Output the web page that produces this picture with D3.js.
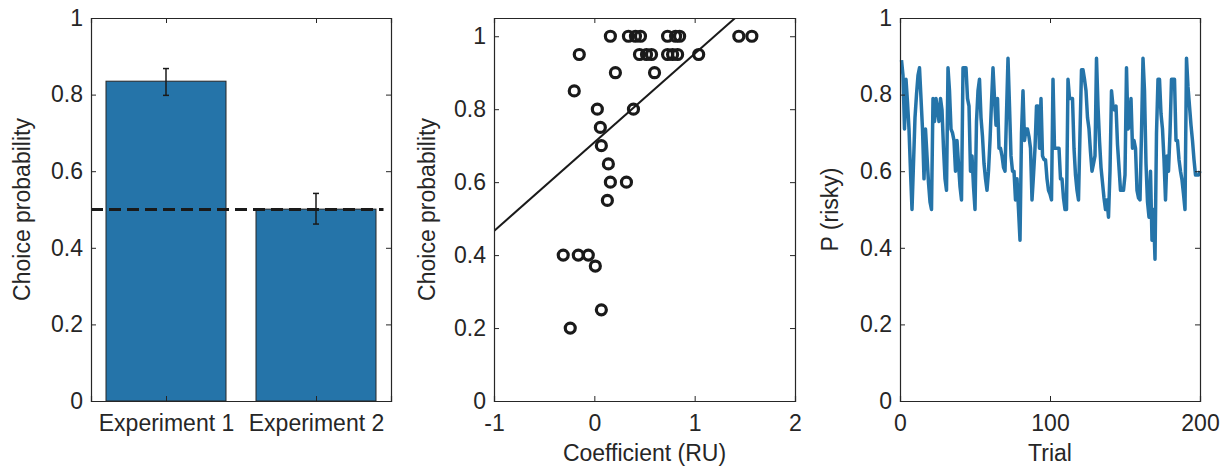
<!DOCTYPE html>
<html>
<head>
<meta charset="utf-8">
<script src="https://cdn.jsdelivr.net/npm/d3@7"></script>
<style>
  body { margin: 0; background: #fff; }
  svg text { font-family: "Liberation Sans", Arial, sans-serif; fill: #262626; }
</style>
</head>
<body>
<svg id="chart" width="1224" height="467"></svg>
<script>
// panel 1 - bars
const experiments = ["Experiment 1", "Experiment 2"];
const barMeans = [0.835, 0.501];
const barLow = [0.798, 0.462];
const barHigh = [0.868, 0.542];
const chanceLevel = 0.5;

// panel 2 - scatter
const coefX = [0.16, 0.34, 0.41, 0.46, 0.73, 0.81, 0.85, 1.44, 1.57,
  -0.15, 0.45, 0.52, 0.57, 0.73, 0.78, 0.83, 1.04,
  0.21, 0.60, -0.20, 0.03, 0.39, 0.06, 0.07, 0.14, 0.16, 0.32, 0.13,
  -0.31, -0.16, -0.06, 0.01, 0.07, -0.24];
const choiceY = [1, 1, 1, 1, 1, 1, 1, 1, 1,
  0.95, 0.95, 0.95, 0.95, 0.95, 0.95, 0.95, 0.95,
  0.9, 0.9, 0.85, 0.8, 0.8, 0.75, 0.7, 0.65, 0.6, 0.6, 0.55,
  0.4, 0.4, 0.4, 0.37, 0.25, 0.2];
const fitIntercept = 0.709;
const fitSlope = 0.243;

// panel 3 - P(risky) over trials 1..200
const pRisky = [
  0.89, 0.85, 0.71, 0.84, 0.78, 0.71, 0.60, 0.50, 0.62, 0.74,
  0.80, 0.85, 0.87, 0.79, 0.71, 0.58, 0.71, 0.64, 0.57, 0.52,
  0.50, 0.79, 0.73, 0.79, 0.76, 0.73, 0.79, 0.76, 0.66, 0.58,
  0.55, 0.87, 0.81, 0.71, 0.70, 0.68, 0.60, 0.68, 0.62, 0.56,
  0.525, 0.87, 0.87, 0.87, 0.79, 0.77, 0.60, 0.64, 0.56, 0.50,
  0.73, 0.81, 0.84, 0.74, 0.69, 0.62, 0.58, 0.55, 0.60, 0.68,
  0.78, 0.87, 0.79, 0.72, 0.79, 0.66, 0.66, 0.64, 0.61, 0.60,
  0.75, 0.895, 0.77, 0.64, 0.60, 0.60, 0.525, 0.58, 0.50, 0.42,
  0.70, 0.81, 0.68, 0.71, 0.71, 0.69, 0.66, 0.525, 0.59, 0.66,
  0.77, 0.77, 0.66, 0.79, 0.64, 0.63, 0.63, 0.58, 0.55, 0.54,
  0.525, 0.84, 0.66, 0.66, 0.66, 0.66, 0.58, 0.58, 0.53, 0.50,
  0.50, 0.84, 0.79, 0.79, 0.79, 0.66, 0.59, 0.55, 0.525, 0.70,
  0.865, 0.865, 0.84, 0.81, 0.74, 0.71, 0.65, 0.60, 0.62, 0.64,
  0.895, 0.77, 0.68, 0.61, 0.57, 0.53, 0.50, 0.525, 0.48, 0.60,
  0.81, 0.77, 0.76, 0.77, 0.67, 0.61, 0.55, 0.55, 0.55, 0.59,
  0.87, 0.71, 0.72, 0.79, 0.66, 0.68, 0.66, 0.55, 0.53, 0.525,
  0.70, 0.895, 0.81, 0.62, 0.52, 0.48, 0.60, 0.42, 0.50, 0.37,
  0.70, 0.84, 0.84, 0.75, 0.71, 0.63, 0.525, 0.64, 0.60, 0.70,
  0.84, 0.84, 0.84, 0.68, 0.68, 0.63, 0.60, 0.577, 0.54, 0.50,
  0.895, 0.82, 0.77, 0.72, 0.68, 0.63, 0.59, 0.59, 0.59, 0.60
];

const probTicks = [0, 0.2, 0.4, 0.6, 0.8, 1];
const probTickLabels = ["0", "0.2", "0.4", "0.6", "0.8", "1"];
const coefTicks = [-1, 0, 1, 2];
const trialTicks = [0, 100, 200];

const blue = "#2574a9";
const ink = "#262626";
const plotTop = 18, plotBottom = 401;
const fontSize = 23;

const svg = d3.select("#chart");

// draws a MATLAB-like box with inward ticks on all four sides
function box(g, x, y, xTicks, yTicks, xFmt, yFmt) {
  const [x0, x1] = x.range();
  const tl = 5;
  g.append("g").attr("transform", `translate(0,${plotBottom})`)
    .call(d3.axisBottom(x).tickValues(xTicks).tickSize(-tl).tickPadding(14).tickFormat(xFmt));
  g.append("g").attr("transform", `translate(0,${plotTop})`)
    .call(d3.axisTop(x).tickValues(xTicks).tickSize(-tl).tickFormat(""));
  g.append("g").attr("transform", `translate(${x0},0)`)
    .call(d3.axisLeft(y).tickValues(yTicks).tickSize(-tl).tickPadding(8).tickFormat(yFmt));
  g.append("g").attr("transform", `translate(${x1},0)`)
    .call(d3.axisRight(y).tickValues(yTicks).tickSize(-tl).tickFormat(""));
  g.selectAll(".domain").attr("stroke", ink).attr("stroke-width", 1.2);
  g.selectAll(".tick line").attr("stroke", ink).attr("stroke-width", 1);
  g.selectAll(".tick text").attr("font-size", fontSize).style("font-family", "Liberation Sans, Arial, sans-serif").attr("fill", ink);
}

function yLabel(g, xpos, text) {
  g.append("text")
    .attr("transform", `translate(${xpos},${(plotTop + plotBottom) / 2}) rotate(-90)`)
    .attr("text-anchor", "middle").attr("font-size", fontSize).text(text);
}
function xLabel(g, x, text) {
  const r = x.range();
  g.append("text").attr("x", (r[0] + r[1]) / 2).attr("y", 461)
    .attr("text-anchor", "middle").attr("font-size", fontSize).text(text);
}
const probFmt = d => probTickLabels[probTicks.indexOf(d)];
const plainFmt = d => String(d);

// ---- panel 1
const g1 = svg.append("g");
const x1 = d3.scaleLinear().domain([0.5, 2.5]).range([91, 391]);
const y1 = d3.scaleLinear().domain([0, 1]).range([plotBottom, plotTop]);
g1.selectAll("rect.bar").data(barMeans).enter().append("rect")
  .attr("class", "bar")
  .attr("x", (d, i) => x1(i + 1 - 0.4))
  .attr("width", x1(1.4) - x1(0.6))
  .attr("y", d => y1(d))
  .attr("height", d => y1(0) - y1(d))
  .attr("fill", blue).attr("stroke", ink).attr("stroke-width", 1);
g1.append("line")
  .attr("x1", x1(0.5)).attr("x2", x1(2.45))
  .attr("y1", y1(chanceLevel)).attr("y2", y1(chanceLevel))
  .attr("stroke", "#1a1a1a").attr("stroke-width", 3).attr("stroke-dasharray", "12,6");
const eb = g1.selectAll("g.err").data(barMeans).enter().append("g").attr("class", "err");
eb.append("line")
  .attr("x1", (d, i) => x1(i + 1)).attr("x2", (d, i) => x1(i + 1))
  .attr("y1", (d, i) => y1(barLow[i])).attr("y2", (d, i) => y1(barHigh[i]));
eb.append("line")
  .attr("x1", (d, i) => x1(i + 1) - 3).attr("x2", (d, i) => x1(i + 1) + 3)
  .attr("y1", (d, i) => y1(barLow[i])).attr("y2", (d, i) => y1(barLow[i]));
eb.append("line")
  .attr("x1", (d, i) => x1(i + 1) - 3).attr("x2", (d, i) => x1(i + 1) + 3)
  .attr("y1", (d, i) => y1(barHigh[i])).attr("y2", (d, i) => y1(barHigh[i]));
eb.selectAll("line").attr("stroke", "#1a1a1a").attr("stroke-width", 1.5);
box(g1, x1, y1, [1, 2], probTicks, (d) => experiments[d - 1], probFmt);
yLabel(g1, 30, "Choice probability");

// ---- panel 2
const g2 = svg.append("g");
const x2 = d3.scaleLinear().domain([-1, 2]).range([494, 795]);
const y2 = d3.scaleLinear().domain([0, 1.05]).range([plotBottom, plotTop]);
svg.append("clipPath").attr("id", "clip2").append("rect")
  .attr("x", 494).attr("y", plotTop).attr("width", 301).attr("height", plotBottom - plotTop);
g2.append("line")
  .attr("clip-path", "url(#clip2)")
  .attr("x1", x2(-1)).attr("y1", y2(fitIntercept + fitSlope * -1))
  .attr("x2", x2(2)).attr("y2", y2(fitIntercept + fitSlope * 2))
  .attr("stroke", "#1a1a1a").attr("stroke-width", 2);
g2.selectAll("circle").data(coefX).enter().append("circle")
  .attr("cx", d => x2(d)).attr("cy", (d, i) => y2(choiceY[i]))
  .attr("r", 5).attr("fill", "none").attr("stroke", "#1a1a1a").attr("stroke-width", 3.2);
box(g2, x2, y2, coefTicks, probTicks, plainFmt, probFmt);
yLabel(g2, 435, "Choice probability");
xLabel(g2, x2, "Coefficient (RU)");

// ---- panel 3
const g3 = svg.append("g");
const x3 = d3.scaleLinear().domain([0, 200]).range([900, 1200]);
const y3 = d3.scaleLinear().domain([0, 1]).range([plotBottom, plotTop]);
g3.append("path").datum(pRisky)
  .attr("d", d3.line().x((d, i) => x3(i + 1)).y(d => y3(d)))
  .attr("fill", "none").attr("stroke", blue).attr("stroke-width", 3.5).attr("stroke-linejoin", "round");
box(g3, x3, y3, trialTicks, probTicks, plainFmt, probFmt);
yLabel(g3, 838, "P (risky)");
xLabel(g3, x3, "Trial");
</script>
</body>
</html>
